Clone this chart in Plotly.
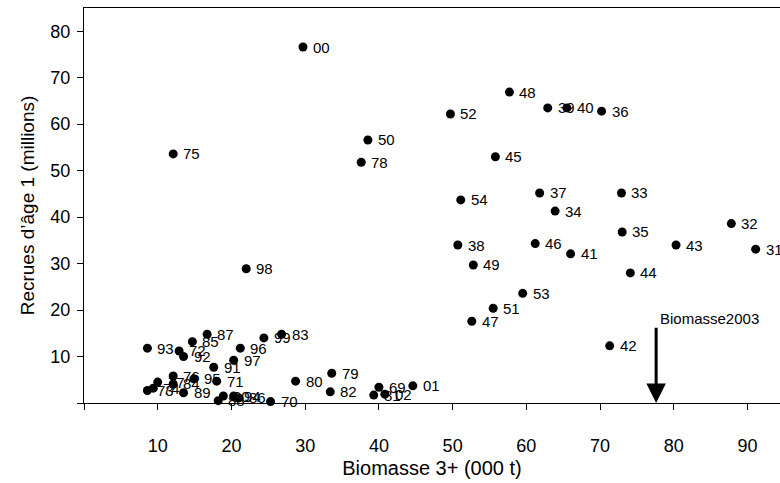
import plotly.graph_objects as go

labels = ["00", "75", "50", "78", "52", "48", "39", "40", "36", "45", "54", "37", "33",
          "34", "32", "35", "38", "46", "43", "31", "41", "49", "44", "53", "51", "47", "42",
          "98", "87", "83", "99", "93", "85", "72", "92", "96", "97", "91", "76", "84", "95",
          "71", "73", "74", "77", "89", "90", "88", "94", "86", "70", "80", "79", "82", "69",
          "81", "02", "01"]
biomasse = [29.7, 12.1, 38.5, 37.6, 49.7, 57.7, 62.9, 65.5, 70.2, 55.8, 51.1, 61.8, 72.9,
            63.9, 87.8, 73.0, 50.7, 61.2, 80.3, 91.1, 66.0, 52.8, 74.1, 59.5, 55.5, 52.6, 71.3,
            22.0, 16.7, 26.8, 24.4, 8.6, 14.7, 12.9, 13.5, 21.2, 20.3, 17.6, 12.1, 12.1, 14.9,
            18.0, 8.6, 9.4, 10.0, 13.5, 18.9, 18.2, 20.3, 21.0, 25.3, 28.7, 33.6, 33.4, 40.0,
            39.3, 40.8, 44.6]
recrues = [76.6, 53.6, 56.6, 51.8, 62.2, 66.9, 63.5, 63.5, 62.8, 53.0, 43.7, 45.2, 45.2,
           41.3, 38.6, 36.8, 34.0, 34.3, 34.0, 33.1, 32.1, 29.7, 28.0, 23.6, 20.4, 17.6, 12.3,
           28.9, 14.8, 14.8, 14.0, 11.8, 13.2, 11.2, 10.0, 11.8, 9.2, 7.7, 5.8, 4.1, 5.2,
           4.7, 2.7, 3.2, 4.5, 2.2, 1.5, 0.5, 1.5, 1.1, 0.3, 4.7, 6.4, 2.4, 3.4,
           1.7, 1.9, 3.7]

x_ticks = [0, 10, 20, 30, 40, 50, 60, 70, 80, 90]
x_ticktext = ["", "10", "20", "30", "40", "50", "60", "70", "80", "90"]
y_ticks = [0, 10, 20, 30, 40, 50, 60, 70, 80]
y_ticktext = ["", "10", "20", "30", "40", "50", "60", "70", "80"]

biomasse_2003 = 77.6
arrow_top = 16.5
arrow_label = "Biomasse2003"

FONT = "Arial, Liberation Sans, sans-serif"

fig = go.Figure()
fig.add_trace(go.Scatter(
    x=biomasse, y=recrues, mode="markers",
    marker=dict(color="black", size=9, line=dict(width=0)),
    showlegend=False, cliponaxis=False,
))

annotations = []
for lab, xv, yv in zip(labels, biomasse, recrues):
    annotations.append(dict(x=xv, y=yv, xref="x", yref="y", text=lab, showarrow=False,
                            xanchor="left", yanchor="middle", xshift=8,
                            font=dict(family=FONT, size=15, color="black")))

annotations.append(dict(x=biomasse_2003, y=0, xref="x", yref="y",
                        ax=biomasse_2003, ay=arrow_top, axref="x", ayref="y",
                        text="", showarrow=True, arrowhead=2, arrowsize=1.3,
                        arrowwidth=3, arrowcolor="black", standoff=0))
annotations.append(dict(x=biomasse_2003, y=arrow_top, xref="x", yref="y",
                        text=arrow_label, showarrow=False, xanchor="left", yanchor="bottom",
                        xshift=2, yshift=-3,
                        font=dict(family=FONT, size=15, color="black")))

fig.update_layout(
    width=780, height=483,
    margin=dict(l=84, r=0, t=8, b=80),
    paper_bgcolor="white", plot_bgcolor="white",
    font=dict(family=FONT, color="black"),
    annotations=annotations,
    xaxis=dict(range=[0, 94.4], tickvals=x_ticks, ticktext=x_ticktext, automargin=False,
               showgrid=False, zeroline=False, showline=True, linecolor="black",
               linewidth=1, mirror=True, ticks="outside", ticklen=6, tickcolor="black",
               ticklabelstandoff=20,
               tickfont=dict(size=18), title=dict(text="Biomasse 3+ (000 t)",
                                                  font=dict(size=20), standoff=6)),
    yaxis=dict(range=[0, 85], tickvals=y_ticks, ticktext=y_ticktext, automargin=False,
               showgrid=False, zeroline=False, showline=True, linecolor="black",
               linewidth=1, ticks="outside", ticklen=6, tickcolor="black",
               ticklabelstandoff=3,
               tickfont=dict(size=18), title=dict(text="Recrues d’âge 1 (millions)",
                                                  font=dict(size=19), standoff=10)),
)

fig.write_html(
    "out.html",
    config={"displayModeBar": False},
    post_script="document.body.style.margin='0';document.documentElement.style.overflow='hidden';",
)
